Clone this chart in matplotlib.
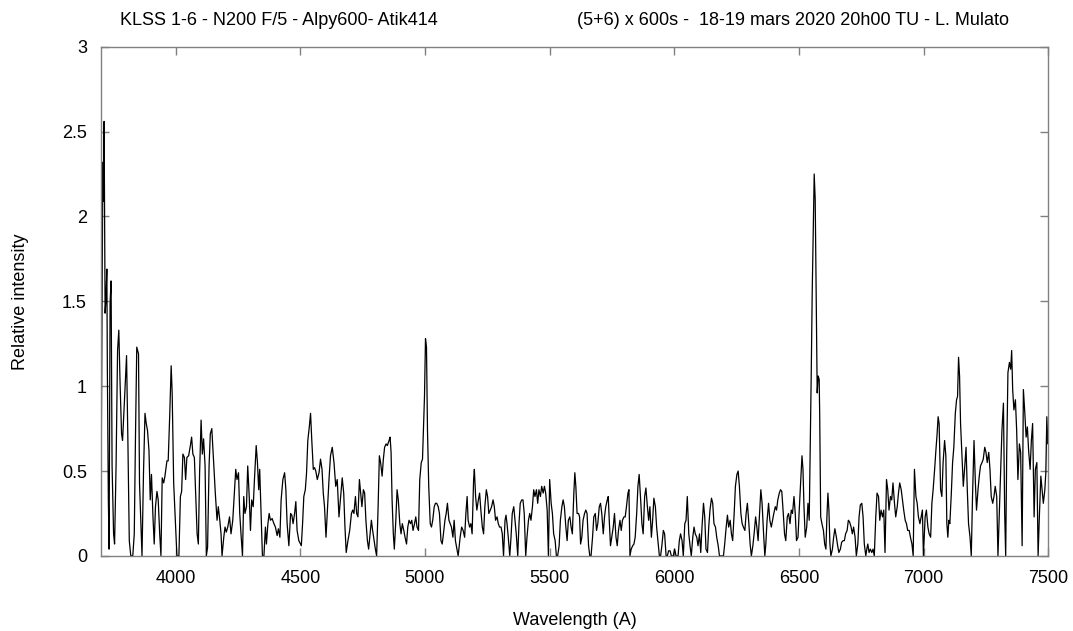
import matplotlib
matplotlib.use("Agg")
import matplotlib.pyplot as plt
import numpy as np
from matplotlib.ticker import FormatStrFormatter, MultipleLocator

# spectrum, read in pieces (wavelength in A, relative intensity)
wl_blue = [3700, 3702, 3708, 3710, 3713, 3717, 3720, 3724, 3726, 3730, 3733, 3737, 3741, 3745,
           3751, 3755, 3761, 3767, 3772, 3777, 3783, 3787, 3791, 3798, 3803, 3808, 3814, 3820,
           3828, 3834, 3839, 3844, 3851, 3855, 3865, 3871, 3877, 3882, 3887, 3893, 3898, 3903,
           3909, 3914, 3919, 3925, 3930, 3936, 3941, 3946, 3952, 3957, 3965, 3970, 3976, 3982,
           3986, 3992, 3998, 4005, 4013, 4019, 4024, 4029, 4035, 4040, 4045, 4052, 4059, 4064,
           4069, 4075, 4080, 4086, 4091, 4096, 4102, 4107, 4112, 4118, 4123, 4128, 4134, 4139,
           4145]
int_blue = [0.02, 0.72, 2.32, 2.09, 2.56, 1.43, 1.50, 1.69, 1.11, 0.33, 0.04, 1.49, 1.62, 0.53,
            0.13, 0.07, 0.53, 1.21, 1.33, 1.02, 0.72, 0.68, 0.80, 1.02, 1.18, 0.72, 0.09, 0.0,
            0.0, 0.13, 0.72, 1.23, 1.19, 0.43, 0.0, 0.49, 0.84, 0.78, 0.74, 0.62, 0.33, 0.48,
            0.23, 0.07, 0.29, 0.38, 0.33, 0.13, 0.0, 0.46, 0.43, 0.47, 0.56, 0.56, 0.82, 1.12,
            0.96, 0.43, 0.23, 0.0, 0.0, 0.35, 0.38, 0.60, 0.58, 0.45, 0.58, 0.59, 0.65, 0.70,
            0.60, 0.58, 0.37, 0.13, 0.07, 0.49, 0.80, 0.60, 0.69, 0.53, 0.0, 0.05, 0.53, 0.72,
            0.75]

wl_hbeta = [4159, 4166, 4171, 4177, 4182, 4186, 4193, 4198, 4203, 4209, 4216, 4222, 4229, 4236,
            4241, 4246, 4252, 4257, 4262, 4268, 4273, 4278, 4284, 4289, 4295, 4300, 4305, 4311,
            4316, 4323, 4328, 4333, 4337, 4343, 4348, 4354, 4360, 4364, 4370, 4375, 4380, 4387,
            4394, 4400, 4407, 4412, 4418, 4423, 4430, 4437, 4442, 4447, 4454, 4461, 4466, 4471,
            4477, 4482, 4487, 4494, 4504, 4509, 4514, 4520, 4525, 4530, 4536, 4541, 4546, 4552,
            4557, 4562, 4568, 4575, 4581, 4587, 4592, 4597, 4603, 4608, 4615, 4621, 4628, 4635,
            4642, 4648, 4655, 4662, 4668, 4674, 4679, 4684, 4691, 4698, 4705, 4710, 4715, 4721,
            4726, 4731, 4737, 4742, 4747, 4753, 4758, 4763, 4769, 4774, 4780, 4785, 4790, 4796,
            4801, 4806, 4812, 4817, 4822, 4828, 4833, 4838, 4844, 4849, 4856, 4860, 4864, 4868,
            4873, 4877, 4883, 4888, 4893, 4899, 4904, 4909, 4915, 4920, 4926, 4931, 4936, 4942,
            4947, 4952, 4958, 4963, 4968, 4974, 4979, 4985, 4990, 4994, 4998, 5002, 5006, 5010,
            5015, 5021, 5026, 5031, 5037, 5042, 5047, 5053, 5058, 5064, 5069, 5074, 5080, 5085,
            5090, 5096, 5101, 5106, 5112, 5117, 5122, 5128, 5133]
int_hbeta = [0.37, 0.21, 0.29, 0.21, 0.13, 0.0, 0.11, 0.17, 0.14, 0.17, 0.23, 0.13, 0.21, 0.39,
             0.51, 0.45, 0.49, 0.25, 0.13, 0.0, 0.35, 0.25, 0.29, 0.53, 0.35, 0.15, 0.33, 0.29,
             0.45, 0.65, 0.55, 0.39, 0.51, 0.23, 0.0, 0.0, 0.17, 0.07, 0.19, 0.25, 0.21, 0.22,
             0.19, 0.17, 0.12, 0.16, 0.11, 0.33, 0.45, 0.49, 0.39, 0.19, 0.06, 0.25, 0.24, 0.19,
             0.25, 0.32, 0.15, 0.09, 0.06, 0.19, 0.35, 0.39, 0.49, 0.68, 0.76, 0.84, 0.68, 0.51,
             0.52, 0.50, 0.45, 0.49, 0.57, 0.51, 0.37, 0.29, 0.11, 0.25, 0.45, 0.59, 0.64, 0.55,
             0.41, 0.45, 0.23, 0.35, 0.46, 0.37, 0.17, 0.02, 0.09, 0.15, 0.25, 0.27, 0.25, 0.35,
             0.25, 0.23, 0.45, 0.37, 0.29, 0.39, 0.37, 0.21, 0.09, 0.04, 0.13, 0.21, 0.15, 0.09,
             0.04, 0.0, 0.29, 0.59, 0.55, 0.47, 0.57, 0.64, 0.66, 0.65, 0.68, 0.70, 0.61, 0.33,
             0.13, 0.04, 0.21, 0.39, 0.33, 0.19, 0.13, 0.19, 0.15, 0.11, 0.07, 0.17, 0.21, 0.19,
             0.21, 0.15, 0.19, 0.23, 0.17, 0.15, 0.45, 0.55, 0.57, 0.76, 0.94, 1.28, 1.23, 0.74,
             0.41, 0.19, 0.17, 0.21, 0.29, 0.31, 0.31, 0.29, 0.25, 0.09, 0.07, 0.13, 0.21, 0.25,
             0.31, 0.21, 0.19, 0.17, 0.11, 0.21, 0.09, 0.04, 0.0]

wl_green = [5141, 5147, 5153, 5159, 5164, 5169, 5173, 5179, 5184, 5189, 5195, 5198, 5203, 5208,
            5214, 5219, 5224, 5230, 5235, 5240, 5246, 5251, 5256, 5262, 5267, 5273, 5278, 5283,
            5289, 5294, 5299, 5305, 5310, 5315, 5321, 5325, 5329, 5334, 5340, 5345, 5350, 5356,
            5361, 5366, 5372, 5377, 5382, 5388, 5393, 5398, 5404, 5409, 5415, 5420, 5425, 5431,
            5436, 5441, 5447, 5452, 5457, 5463, 5468, 5474, 5479, 5484, 5490, 5495, 5500, 5506,
            5511, 5516, 5522, 5527, 5532, 5538, 5543, 5549, 5554, 5559, 5565, 5570, 5575, 5581,
            5586, 5591, 5597, 5601, 5605, 5610, 5616, 5620, 5624, 5629, 5634, 5640, 5645, 5650,
            5656, 5661, 5666, 5672, 5677, 5683, 5688, 5693, 5699, 5704, 5709, 5715, 5720, 5725,
            5731, 5735, 5739, 5744, 5749, 5755, 5760, 5766, 5771, 5776, 5782, 5787, 5792, 5798,
            5803, 5808, 5814, 5818, 5822, 5827, 5833, 5838, 5843, 5849, 5854, 5859, 5865, 5870,
            5875, 5881, 5886, 5892, 5897, 5902, 5908, 5913, 5918, 5924, 5929, 5934, 5940, 5945,
            5950, 5956, 5961, 5967, 5972, 5977, 5983, 5988, 5996, 6001, 6007, 6015, 6020, 6025,
            6031, 6036, 6042, 6047, 6052, 6058, 6063, 6068, 6074, 6079, 6084, 6090, 6095, 6101]
int_green = [0.11, 0.17, 0.15, 0.11, 0.25, 0.35, 0.21, 0.17, 0.19, 0.13, 0.45, 0.51, 0.35, 0.27,
             0.33, 0.37, 0.27, 0.17, 0.13, 0.29, 0.39, 0.35, 0.25, 0.27, 0.29, 0.33, 0.29, 0.21,
             0.23, 0.19, 0.17, 0.17, 0.13, 0.0, 0.21, 0.24, 0.19, 0.11, 0.0, 0.11, 0.25, 0.29,
             0.21, 0.13, 0.0, 0.19, 0.31, 0.33, 0.33, 0.25, 0.0, 0.11, 0.21, 0.25, 0.21, 0.29,
             0.39, 0.35, 0.39, 0.31, 0.39, 0.35, 0.41, 0.37, 0.41, 0.37, 0.27, 0.0, 0.45, 0.31,
             0.25, 0.13, 0.09, 0.0, 0.0, 0.06, 0.21, 0.29, 0.33, 0.29, 0.17, 0.09, 0.21, 0.23,
             0.17, 0.13, 0.37, 0.49, 0.41, 0.25, 0.25, 0.23, 0.07, 0.11, 0.21, 0.25, 0.27, 0.25,
             0.06, 0.0, 0.0, 0.11, 0.23, 0.25, 0.15, 0.19, 0.29, 0.31, 0.25, 0.13, 0.23, 0.29,
             0.33, 0.35, 0.21, 0.06, 0.11, 0.17, 0.25, 0.11, 0.06, 0.15, 0.21, 0.15, 0.21, 0.23,
             0.23, 0.29, 0.37, 0.39, 0.0, 0.04, 0.06, 0.07, 0.11, 0.25, 0.41, 0.48, 0.33, 0.19,
             0.13, 0.35, 0.40, 0.29, 0.21, 0.29, 0.11, 0.21, 0.34, 0.29, 0.17, 0.09, 0.0, 0.0,
             0.06, 0.15, 0.13, 0.0, 0.0, 0.03, 0.03, 0.0, 0.0, 0.04, 0.0, 0.0, 0.09, 0.13,
             0.09, 0.0, 0.19, 0.21, 0.35, 0.13, 0.06, 0.0, 0.11, 0.17, 0.13, 0.11, 0.06, 0.13]

wl_halpha = [6106, 6111, 6117, 6122, 6127, 6133, 6138, 6143, 6149, 6154, 6159, 6165, 6170, 6176,
             6181, 6197, 6202, 6208, 6213, 6218, 6224, 6229, 6234, 6240, 6245, 6251, 6256, 6261,
             6267, 6272, 6277, 6283, 6288, 6293, 6299, 6304, 6309, 6315, 6320, 6326, 6331, 6336,
             6342, 6347, 6352, 6358, 6363, 6367, 6372, 6378, 6383, 6389, 6394, 6399, 6405, 6410,
             6415, 6421, 6426, 6431, 6437, 6442, 6447, 6453, 6458, 6464, 6469, 6474, 6480, 6485,
             6490, 6496, 6501, 6506, 6512, 6516, 6520, 6525, 6531, 6536, 6541, 6545, 6549, 6553,
             6557, 6561, 6565, 6569, 6573, 6577, 6581, 6583, 6587, 6592, 6598, 6603, 6608, 6612,
             6616, 6620, 6624, 6628, 6634, 6639, 6644, 6650, 6655, 6660, 6666, 6671, 6677, 6682,
             6687, 6693, 6698, 6703, 6709, 6714, 6719, 6725, 6730, 6736, 6741, 6746, 6752, 6757,
             6762, 6768, 6772, 6776, 6781, 6786, 6792, 6797, 6802, 6808, 6813, 6819, 6824, 6829,
             6835, 6840, 6845, 6851, 6856, 6861, 6867, 6872, 6877, 6883, 6888, 6894, 6899, 6904,
             6910, 6915, 6920, 6926, 6931, 6936, 6942, 6947, 6953, 6958, 6963, 6969, 6974, 6979,
             6985, 6990, 6995, 6999, 7006, 7011, 7017, 7022, 7028, 7033, 7038, 7044, 7049, 7054,
             7058, 7062, 7068]
int_halpha = [0.02, 0.17, 0.31, 0.23, 0.04, 0.02, 0.17, 0.27, 0.34, 0.31, 0.19, 0.17, 0.11, 0.06,
              0.0, 0.0, 0.07, 0.17, 0.24, 0.17, 0.21, 0.13, 0.09, 0.25, 0.41, 0.48, 0.50, 0.41,
              0.25, 0.19, 0.17, 0.15, 0.25, 0.31, 0.19, 0.07, 0.0, 0.06, 0.13, 0.23, 0.17, 0.09,
              0.25, 0.39, 0.31, 0.13, 0.0, 0.07, 0.21, 0.31, 0.21, 0.17, 0.21, 0.25, 0.29, 0.27,
              0.33, 0.37, 0.39, 0.38, 0.25, 0.13, 0.09, 0.23, 0.25, 0.19, 0.27, 0.25, 0.35, 0.25,
              0.09, 0.11, 0.27, 0.41, 0.59, 0.51, 0.29, 0.11, 0.17, 0.31, 0.21, 0.64, 1.06, 1.55,
              1.90, 2.25, 2.10, 1.55, 0.96, 1.06, 1.04, 0.84, 0.23, 0.19, 0.15, 0.07, 0.04, 0.23,
              0.37, 0.27, 0.07, 0.0, 0.04, 0.11, 0.16, 0.11, 0.06, 0.02, 0.04, 0.08, 0.09, 0.09,
              0.13, 0.15, 0.21, 0.20, 0.17, 0.13, 0.17, 0.11, 0.0, 0.07, 0.23, 0.30, 0.31, 0.23,
              0.07, 0.0, 0.04, 0.07, 0.02, 0.04, 0.02, 0.04, 0.0, 0.23, 0.37, 0.35, 0.21, 0.27,
              0.23, 0.27, 0.02, 0.45, 0.39, 0.27, 0.35, 0.33, 0.43, 0.31, 0.23, 0.29, 0.37, 0.43,
              0.39, 0.33, 0.27, 0.21, 0.19, 0.15, 0.15, 0.11, 0.07, 0.0, 0.51, 0.35, 0.31, 0.23,
              0.19, 0.23, 0.27, 0.0, 0.23, 0.27, 0.17, 0.13, 0.11, 0.31, 0.39, 0.51, 0.62, 0.72,
              0.82, 0.78, 0.39]

wl_red = [7073, 7078, 7084, 7089, 7093, 7097, 7101, 7105, 7111, 7116, 7121, 7127, 7132, 7136,
          7140, 7144, 7148, 7153, 7159, 7164, 7170, 7175, 7180, 7186, 7191, 7196, 7202, 7207,
          7212, 7218, 7223, 7228, 7234, 7239, 7245, 7250, 7255, 7261, 7266, 7271, 7277, 7282,
          7287, 7293, 7298, 7303, 7309, 7314, 7320, 7325, 7329, 7333, 7338, 7344, 7349, 7353,
          7357, 7362, 7368, 7373, 7378, 7384, 7389, 7395, 7400, 7405, 7411, 7416, 7421, 7427,
          7432, 7437, 7443, 7448, 7454, 7459, 7464, 7470, 7475, 7480, 7486, 7490, 7494, 7498,
          7500]
int_red = [0.35, 0.55, 0.68, 0.59, 0.19, 0.11, 0.21, 0.19, 0.37, 0.55, 0.64, 0.84, 0.92, 0.94,
           1.17, 1.06, 0.78, 0.61, 0.41, 0.51, 0.64, 0.39, 0.19, 0.11, 0.0, 0.35, 0.68, 0.45,
           0.27, 0.39, 0.47, 0.53, 0.55, 0.57, 0.64, 0.61, 0.55, 0.61, 0.51, 0.35, 0.31, 0.35,
           0.41, 0.35, 0.0, 0.23, 0.49, 0.74, 0.90, 0.25, 0.0, 0.59, 1.08, 1.14, 1.10, 1.21,
           0.98, 0.86, 0.92, 0.74, 0.45, 0.66, 0.61, 0.06, 0.98, 0.86, 0.70, 0.76, 0.62, 0.51,
           0.68, 0.78, 0.23, 0.51, 0.55, 0.0, 0.23, 0.47, 0.39, 0.31, 0.39, 0.49, 0.82, 0.66,
           0.68]

title_left = "KLSS 1-6 - N200 F/5 - Alpy600- Atik414"
title_right = "(5+6) x 600s -  18-19 mars 2020 20h00 TU - L. Mulato"

wavelength = np.array(wl_blue + wl_hbeta + wl_green + wl_halpha + wl_red, dtype=float)
intensity = np.array(int_blue + int_hbeta + int_green + int_halpha + int_red)

plt.rcParams["font.family"] = ["Liberation Sans", "DejaVu Sans"]
plt.rcParams["font.size"] = 13

fig = plt.figure(figsize=(10.73, 6.31), dpi=100)
ax = fig.add_axes([0.094, 0.119, 0.883, 0.807])

ax.plot(wavelength, intensity, color="black", lw=0.9)

ax.set_xlim(3700, 7500)
ax.set_ylim(0, 3)
ax.xaxis.set_major_locator(MultipleLocator(500))
ax.yaxis.set_major_locator(MultipleLocator(0.5))
ax.yaxis.set_major_formatter(FormatStrFormatter("%g"))

for s in ax.spines.values():
    s.set_color("#808080")
    s.set_linewidth(1)
ax.tick_params(direction="in", top=True, right=True, length=6, width=1,
               color="#808080", labelsize=13, pad=10)

ax.set_xlabel("Wavelength (A)", labelpad=18)
ax.set_ylabel("Relative intensity", labelpad=24)

fig.text(0.26, 0.967, title_left, ha="center", va="center", fontsize=13)
fig.text(0.7395, 0.967, title_right, ha="center", va="center", fontsize=13)

fig.savefig("out.png", dpi=100)
